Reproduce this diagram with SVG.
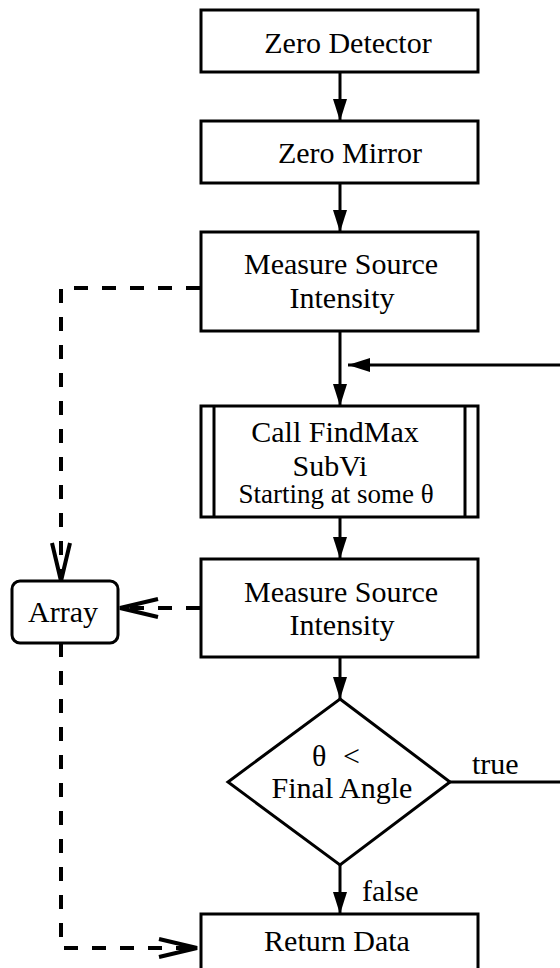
<svg xmlns="http://www.w3.org/2000/svg" width="560" height="968" viewBox="0 0 560 968">
  <style>
    .box { fill: #fff; stroke: #000; stroke-width: 3; }
    .lbl { font-family: "Liberation Serif", "Times New Roman", serif; font-size: 30px; fill: #000; text-anchor: middle; }
    .small { font-size: 27px; }
    .start { text-anchor: start; }
    .flow { fill: none; stroke: #000; stroke-width: 3; }
    .data { fill: none; stroke: #000; stroke-width: 4; stroke-dasharray: 14 14; }
  </style>
  <defs>
    <marker id="solidHead" markerUnits="userSpaceOnUse" markerWidth="24" markerHeight="16" viewBox="-22 -8 24 16" refX="0" refY="0" orient="auto">
      <path d="M0,0 L-22,-7 L-22,7 Z" fill="#000"/>
    </marker>
    <marker id="openHead" markerUnits="userSpaceOnUse" markerWidth="44" markerHeight="26" viewBox="-40 -13 44 26" refX="0" refY="0" orient="auto">
      <path d="M-38,-9 L0,0 L-38,9" fill="none" stroke="#000" stroke-width="4" stroke-dasharray="none"/>
    </marker>
  </defs>

  <!-- connectors -->
  <g id="connectors">
    <line class="flow" x1="340" y1="72" x2="340" y2="121" marker-end="url(#solidHead)"/>
    <line class="flow" x1="340" y1="183" x2="340" y2="232" marker-end="url(#solidHead)"/>
    <line class="flow" x1="340" y1="331" x2="340" y2="406" marker-end="url(#solidHead)"/>
    <line class="flow" x1="560" y1="365" x2="348" y2="365" marker-end="url(#solidHead)"/>
    <line class="flow" x1="340" y1="517" x2="340" y2="559" marker-end="url(#solidHead)"/>
    <line class="flow" x1="340" y1="657" x2="340" y2="699" marker-end="url(#solidHead)"/>
    <line class="flow" x1="340" y1="865" x2="340" y2="914" marker-end="url(#solidHead)"/>
    <line class="flow" x1="450" y1="782" x2="560" y2="782"/>
    <text class="lbl start" x="472" y="774">true</text>
    <text class="lbl start" x="362" y="901">false</text>
    <!-- data paths into and out of the array -->
    <polyline class="data" points="200,288 61,288 61,581" marker-end="url(#openHead)"/>
    <line class="data" x1="200" y1="608" x2="120" y2="608" marker-end="url(#openHead)"/>
    <polyline class="data" points="61,643 61,948 197,948" marker-end="url(#openHead)"/>
  </g>

  <g id="zero-detector">
    <rect class="box" x="201" y="10" width="277" height="62"/>
    <text class="lbl" x="348" y="53">Zero Detector</text>
  </g>

  <g id="zero-mirror">
    <rect class="box" x="201" y="121" width="277" height="62"/>
    <text class="lbl" x="350" y="163">Zero Mirror</text>
  </g>

  <g id="measure-1">
    <rect class="box" x="201" y="232" width="277" height="99"/>
    <text class="lbl" x="341" y="274">Measure Source</text>
    <text class="lbl" x="342" y="308">Intensity</text>
  </g>

  <g id="findmax">
    <rect class="box" x="201" y="406" width="277" height="111"/>
    <line class="flow" x1="214" y1="406" x2="214" y2="517"/>
    <line class="flow" x1="465" y1="406" x2="465" y2="517"/>
    <text class="lbl" x="335" y="442">Call FindMax</text>
    <text class="lbl" x="330" y="476">SubVi</text>
    <text class="lbl small" x="336" y="503">Starting at some θ</text>
  </g>

  <g id="measure-2">
    <rect class="box" x="201" y="559" width="277" height="98"/>
    <text class="lbl" x="341" y="602">Measure Source</text>
    <text class="lbl" x="342" y="635">Intensity</text>
  </g>

  <g id="array">
    <rect class="box" x="12" y="581" width="106" height="62" rx="8" ry="8"/>
    <text class="lbl" x="63" y="622">Array</text>
  </g>

  <g id="angle-test">
    <polygon class="box" points="340,699 450,782 340,865 228,782"/>
    <text class="lbl start" x="312" y="766">θ</text>
    <text class="lbl start" x="343" y="766">&lt;</text>
    <text class="lbl" x="342" y="798">Final Angle</text>
  </g>

  <g id="return-data">
    <rect class="box" x="201" y="914" width="277" height="60"/>
    <text class="lbl" x="337" y="951">Return Data</text>
  </g>
</svg>
